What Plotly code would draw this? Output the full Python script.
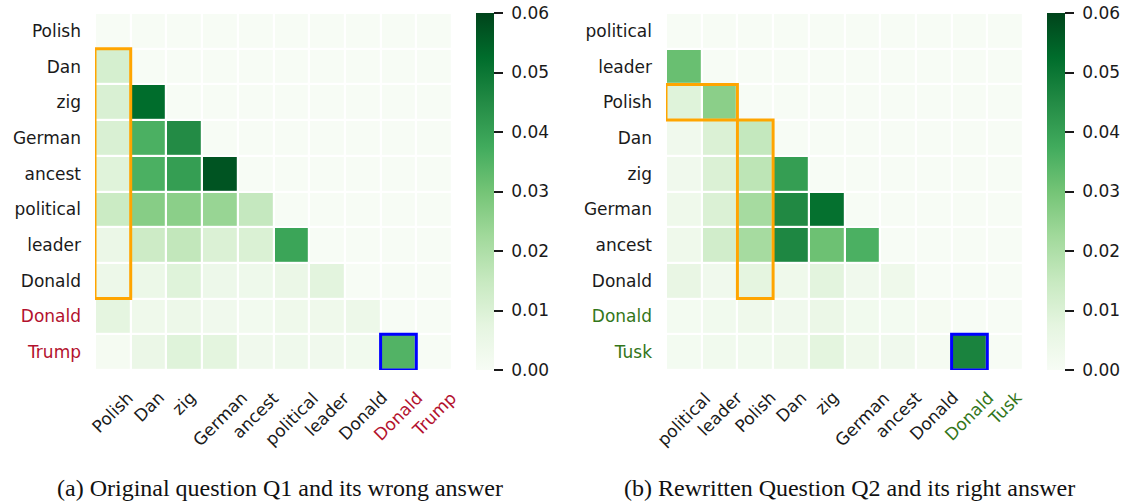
import plotly.graph_objects as go

W, H = 1123, 501

# Token labels (rows = query position, columns = key position)
tokens_q1 = ["Polish", "Dan", "zig", "German", "ancest", "political",
             "leader", "Donald", "Donald", "Trump"]
tokens_q2 = ["political", "leader", "Polish", "Dan", "zig", "German",
             "ancest", "Donald", "Donald", "Tusk"]

# Answer tokens are coloured differently in the labels
answer_color_q1 = "#b3112e"
answer_color_q2 = "#33761a"
answer_idx = [8, 9]

# Attention weights strictly below the diagonal, row by row
attn_q1 = [
    [],
    [0.0115],
    [0.0105, 0.0525],
    [0.0105, 0.0360, 0.0450],
    [0.0088, 0.0360, 0.0405, 0.0570],
    [0.0140, 0.0268, 0.0262, 0.0240, 0.0153],
    [0.0050, 0.0135, 0.0160, 0.0100, 0.0102, 0.0390],
    [0.0042, 0.0045, 0.0090, 0.0040, 0.0036, 0.0050, 0.0080],
    [0.0075, 0.0035, 0.0042, 0.0030, 0.0020, 0.0035, 0.0035, 0.0042],
    [0.0010, 0.0050, 0.0090, 0.0078, 0.0030, 0.0032, 0.0030, 0.0024, 0.0350],
]
attn_q2 = [
    [],
    [0.0316],
    [0.0090, 0.0262],
    [0.0030, 0.0100, 0.0155],
    [0.0030, 0.0100, 0.0170, 0.0405],
    [0.0035, 0.0100, 0.0215, 0.0455, 0.0515],
    [0.0035, 0.0125, 0.0215, 0.0460, 0.0310, 0.0360],
    [0.0060, 0.0030, 0.0075, 0.0035, 0.0080, 0.0030, 0.0035],
    [0.0015, 0.0025, 0.0035, 0.0030, 0.0050, 0.0025, 0.0015, 0.0010],
    [0.0015, 0.0025, 0.0025, 0.0035, 0.0078, 0.0035, 0.0030, 0.0010, 0.0470],
]

cbar_ticks = [0.00, 0.01, 0.02, 0.03, 0.04, 0.05, 0.06]
captions = ["(a) Original question Q1 and its wrong answer",
            "(b) Rewritten Question Q2 and its right answer"]

# matplotlib "Greens"
greens = ["#f7fcf5", "#e5f5e0", "#c7e9c0", "#a1d99b", "#74c476",
          "#41ab5d", "#238b45", "#006d2c", "#00441b"]
colorscale = [[i / (len(greens) - 1), c] for i, c in enumerate(greens)]


def full_matrix(rows):
    n = len(rows)
    return [list(r) + [0.0] * (n - len(r)) for r in rows]


def label_html(tok, i, color):
    if i in answer_idx:
        return f'<span style="color:{color}">{tok}</span>'
    return tok


FONT = "DejaVu Sans"
TXT = "#1a1a1a"

# pixel layout of the two panels
grid_left = [95, 666]
grid_size = 357
grid_top = 13
grid_bottom = grid_top + grid_size
cbar_gap = 24
cbar_w = 18
caption_x = [280, 849]

fig = go.Figure()
panels = [(tokens_q1, attn_q1, answer_color_q1),
          (tokens_q2, attn_q2, answer_color_q2)]

for k, (toks, attn, acol) in enumerate(panels):
    n = len(toks)
    xa = "x" if k == 0 else "x2"
    ya = "y" if k == 0 else "y2"
    x0 = grid_left[k]
    fig.add_trace(go.Heatmap(
        z=full_matrix(attn),
        x=list(range(n)), y=list(range(n)),
        xaxis=xa, yaxis=ya,
        colorscale=colorscale, zmin=0, zmax=0.06,
        xgap=2.2, ygap=2.2,
        colorbar=dict(
            x=(x0 + grid_size + cbar_gap) / W, xanchor="left",
            y=(H - grid_top) / H, yanchor="top",
            len=grid_size / H, lenmode="fraction",
            thickness=cbar_w, xpad=0, ypad=0, outlinewidth=0,
            ticks="outside", ticklen=9, tickwidth=1.8, tickcolor=TXT,
            tickvals=cbar_ticks,
            ticktext=["\u00a0" + f"{v:.2f}" for v in cbar_ticks],
            tickfont=dict(family=FONT, size=17, color=TXT),
        ),
        hoverinfo="skip",
    ))
    axis_x = dict(domain=[x0 / W, (x0 + grid_size) / W], range=[-0.5, n - 0.5],
                  showticklabels=False, showgrid=False, zeroline=False,
                  showline=False, ticks="", anchor=ya)
    axis_y = dict(domain=[(H - grid_bottom) / H, (H - grid_top) / H],
                  range=[n - 0.5, -0.5], showgrid=False, zeroline=False,
                  showline=False, ticks="", tickvals=list(range(n)),
                  ticktext=[label_html(t, i, acol) for i, t in enumerate(toks)],
                  tickfont=dict(family=FONT, size=17, color=TXT),
                  ticklabelstandoff=13, anchor=xa)
    if k == 0:
        fig.update_layout(xaxis=axis_x, yaxis=axis_y)
    else:
        fig.update_layout(xaxis2=axis_x, yaxis2=axis_y)

    # rotated column labels
    for i, t in enumerate(toks):
        fig.add_annotation(
            x=i, xref=xa, y=(H - grid_bottom) / H, yref="paper",
            yshift=-15, xanchor="center", yanchor="top",
            text=t, textangle=-45, showarrow=False,
            font=dict(family=FONT, size=17,
                      color=acol if i in answer_idx else TXT),
        )

    fig.add_annotation(
        x=caption_x[k] / W, xref="paper", y=(H - 488) / H, yref="paper",
        xanchor="center", yanchor="middle", text=captions[k], showarrow=False,
        font=dict(family="Liberation Serif", size=24, color="#111111"),
    )

ORANGE = "#ffa500"
BLUE = "#0000ff"
# highlighted regions (cell index bounds)
boxes = [
    ("x", "y", -0.5, 0.5, 0.5, 7.5, ORANGE),
    ("x", "y", 7.5, 8.5, 8.5, 9.5, BLUE),
    ("x2", "y2", -0.5, 1.5, 1.5, 2.5, ORANGE),
    ("x2", "y2", 1.5, 2.5, 2.5, 7.5, ORANGE),
    ("x2", "y2", 7.5, 8.5, 8.5, 9.5, BLUE),
]
for xr, yr, bx0, bx1, by0, by1, col in boxes:
    fig.add_shape(type="rect", xref=xr, yref=yr, x0=bx0, x1=bx1, y0=by0, y1=by1,
                  line=dict(color=col, width=3), layer="above")

fig.update_layout(
    width=W, height=H, margin=dict(l=0, r=0, t=0, b=0),
    paper_bgcolor="white", plot_bgcolor="white",
    font=dict(family=FONT, color=TXT),
    showlegend=False,
)

fig.write_html("out.html")
